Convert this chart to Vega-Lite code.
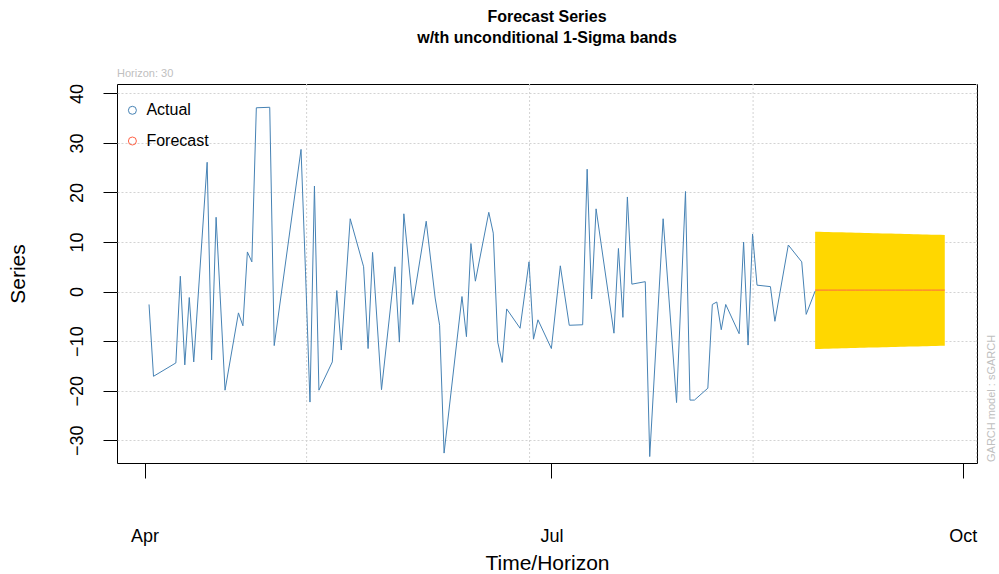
{
  "$schema": "https://vega.github.io/schema/vega-lite/v6.json",
  "width": 860,
  "height": 379,
  "autosize": {"type": "none"},
  "padding": {"left": 117, "top": 84, "right": 22, "bottom": 111},
  "background": "white",
  "config": {
    "view": {"stroke": "black", "strokeWidth": 1},
    "font": "Liberation Sans"
  },
  "title": {
    "text": ["Forecast Series", "w/th unconditional 1-Sigma bands"],
    "font": "Liberation Sans",
    "fontSize": 16,
    "fontWeight": "bold",
    "color": "black",
    "anchor": "middle",
    "offset": 22,
    "lineHeight": 20.7
  },
  "datasets": {
    "actual": [
      {"date": "2011-04-02", "v": -2.6},
      {"date": "2011-04-03", "v": -17.1},
      {"date": "2011-04-08", "v": -14.4},
      {"date": "2011-04-09", "v": 3.1},
      {"date": "2011-04-10", "v": -14.8},
      {"date": "2011-04-11", "v": -1.2},
      {"date": "2011-04-12", "v": -14.2},
      {"date": "2011-04-15", "v": 26.1},
      {"date": "2011-04-16", "v": -13.8},
      {"date": "2011-04-17", "v": 15.0},
      {"date": "2011-04-19", "v": -19.9},
      {"date": "2011-04-22", "v": -4.3},
      {"date": "2011-04-23", "v": -6.9},
      {"date": "2011-04-24", "v": 8.0},
      {"date": "2011-04-25", "v": 6.0},
      {"date": "2011-04-26", "v": 37.1},
      {"date": "2011-04-29", "v": 37.2},
      {"date": "2011-04-30", "v": -10.9},
      {"date": "2011-05-06", "v": 28.7},
      {"date": "2011-05-07", "v": 4.0},
      {"date": "2011-05-08", "v": -22.3},
      {"date": "2011-05-09", "v": 21.3},
      {"date": "2011-05-10", "v": -19.9},
      {"date": "2011-05-13", "v": -14.2},
      {"date": "2011-05-14", "v": 0.2},
      {"date": "2011-05-15", "v": -11.8},
      {"date": "2011-05-17", "v": 14.7},
      {"date": "2011-05-20", "v": 5.0},
      {"date": "2011-05-21", "v": -11.5},
      {"date": "2011-05-22", "v": 7.9},
      {"date": "2011-05-24", "v": -19.8},
      {"date": "2011-05-27", "v": 5.0},
      {"date": "2011-05-28", "v": -10.2},
      {"date": "2011-05-29", "v": 15.7},
      {"date": "2011-05-31", "v": -2.6},
      {"date": "2011-06-03", "v": 14.2},
      {"date": "2011-06-05", "v": -1.3},
      {"date": "2011-06-06", "v": -6.8},
      {"date": "2011-06-07", "v": -32.6},
      {"date": "2011-06-11", "v": -1.0},
      {"date": "2011-06-12", "v": -9.1},
      {"date": "2011-06-13", "v": 9.7},
      {"date": "2011-06-14", "v": 2.1},
      {"date": "2011-06-17", "v": 16.0},
      {"date": "2011-06-18", "v": 11.8},
      {"date": "2011-06-19", "v": -10.2},
      {"date": "2011-06-20", "v": -14.3},
      {"date": "2011-06-21", "v": -3.5},
      {"date": "2011-06-24", "v": -7.4},
      {"date": "2011-06-26", "v": 6.0},
      {"date": "2011-06-27", "v": -9.6},
      {"date": "2011-06-28", "v": -5.7},
      {"date": "2011-07-01", "v": -11.5},
      {"date": "2011-07-03", "v": 5.2},
      {"date": "2011-07-05", "v": -6.8},
      {"date": "2011-07-08", "v": -6.7},
      {"date": "2011-07-09", "v": 24.7},
      {"date": "2011-07-10", "v": -1.5},
      {"date": "2011-07-11", "v": 16.7},
      {"date": "2011-07-15", "v": -8.4},
      {"date": "2011-07-16", "v": 8.7},
      {"date": "2011-07-17", "v": -5.2},
      {"date": "2011-07-18", "v": 19.1},
      {"date": "2011-07-19", "v": 1.5},
      {"date": "2011-07-22", "v": 2.0},
      {"date": "2011-07-23", "v": -33.3},
      {"date": "2011-07-26", "v": 14.7},
      {"date": "2011-07-29", "v": -22.4},
      {"date": "2011-07-31", "v": 20.2},
      {"date": "2011-08-01", "v": -21.9},
      {"date": "2011-08-02", "v": -21.9},
      {"date": "2011-08-05", "v": -19.5},
      {"date": "2011-08-06", "v": -2.6},
      {"date": "2011-08-07", "v": -2.1},
      {"date": "2011-08-08", "v": -7.7},
      {"date": "2011-08-09", "v": -2.6},
      {"date": "2011-08-12", "v": -8.5},
      {"date": "2011-08-13", "v": 10.0},
      {"date": "2011-08-14", "v": -10.8},
      {"date": "2011-08-15", "v": 11.6},
      {"date": "2011-08-16", "v": 1.3},
      {"date": "2011-08-19", "v": 1.0},
      {"date": "2011-08-20", "v": -6.0},
      {"date": "2011-08-23", "v": 9.4},
      {"date": "2011-08-26", "v": 6.0},
      {"date": "2011-08-27", "v": -4.6},
      {"date": "2011-08-29", "v": 0.1}
    ],
    "forecast": [
      {"date": "2011-08-29", "mean": 0.3, "upper": 12.1, "lower": -11.6},
      {"date": "2011-08-30", "mean": 0.3, "upper": 12.08, "lower": -11.58},
      {"date": "2011-08-31", "mean": 0.3, "upper": 12.05, "lower": -11.55},
      {"date": "2011-09-01", "mean": 0.3, "upper": 12.03, "lower": -11.53},
      {"date": "2011-09-02", "mean": 0.3, "upper": 12.0, "lower": -11.5},
      {"date": "2011-09-03", "mean": 0.3, "upper": 11.98, "lower": -11.48},
      {"date": "2011-09-04", "mean": 0.3, "upper": 11.96, "lower": -11.46},
      {"date": "2011-09-05", "mean": 0.3, "upper": 11.93, "lower": -11.43},
      {"date": "2011-09-06", "mean": 0.3, "upper": 11.91, "lower": -11.41},
      {"date": "2011-09-07", "mean": 0.3, "upper": 11.88, "lower": -11.38},
      {"date": "2011-09-08", "mean": 0.3, "upper": 11.86, "lower": -11.36},
      {"date": "2011-09-09", "mean": 0.3, "upper": 11.84, "lower": -11.34},
      {"date": "2011-09-10", "mean": 0.3, "upper": 11.81, "lower": -11.31},
      {"date": "2011-09-11", "mean": 0.3, "upper": 11.79, "lower": -11.29},
      {"date": "2011-09-12", "mean": 0.3, "upper": 11.77, "lower": -11.27},
      {"date": "2011-09-13", "mean": 0.3, "upper": 11.74, "lower": -11.24},
      {"date": "2011-09-14", "mean": 0.3, "upper": 11.72, "lower": -11.22},
      {"date": "2011-09-15", "mean": 0.3, "upper": 11.7, "lower": -11.2},
      {"date": "2011-09-16", "mean": 0.3, "upper": 11.67, "lower": -11.17},
      {"date": "2011-09-17", "mean": 0.3, "upper": 11.65, "lower": -11.15},
      {"date": "2011-09-18", "mean": 0.3, "upper": 11.63, "lower": -11.13},
      {"date": "2011-09-19", "mean": 0.3, "upper": 11.6, "lower": -11.1},
      {"date": "2011-09-20", "mean": 0.3, "upper": 11.58, "lower": -11.08},
      {"date": "2011-09-21", "mean": 0.3, "upper": 11.56, "lower": -11.06},
      {"date": "2011-09-22", "mean": 0.3, "upper": 11.54, "lower": -11.04},
      {"date": "2011-09-23", "mean": 0.3, "upper": 11.51, "lower": -11.01},
      {"date": "2011-09-24", "mean": 0.3, "upper": 11.49, "lower": -10.99},
      {"date": "2011-09-25", "mean": 0.3, "upper": 11.47, "lower": -10.97},
      {"date": "2011-09-26", "mean": 0.3, "upper": 11.45, "lower": -10.95},
      {"date": "2011-09-27", "mean": 0.3, "upper": 11.42, "lower": -10.92}
    ],
    "vgrid": [
      {"date": "2011-05-07T06:00:00Z"},
      {"date": "2011-06-26T03:00:00Z"},
      {"date": "2011-08-15T03:00:00Z"},
      {"date": "2011-10-04T03:00:00Z"}
    ]
  },
  "layer": [
    {
      "data": {"name": "vgrid"},
      "mark": {"type": "rule", "color": "#D3D3D3", "strokeDash": [2, 2], "strokeWidth": 1},
      "encoding": {
        "x": {
          "field": "date",
          "type": "temporal",
          "scale": {
            "type": "utc",
            "domain": [
              {"year": 2011, "month": 3, "date": 25, "hours": 20, "utc": true},
              {"year": 2011, "month": 10, "date": 4, "hours": 5, "utc": true}
            ]
          },
          "axis": {
            "values": [
              {"year": 2011, "month": 4, "date": 1, "utc": true},
              {"year": 2011, "month": 7, "date": 1, "utc": true},
              {"year": 2011, "month": 10, "date": 1, "utc": true}
            ],
            "format": "%b",
            "grid": false,
            "domain": false,
            "tickSize": 15,
            "tickColor": "black",
            "labelPadding": 49,
            "labelFontSize": 18,
            "labelFont": "Liberation Sans",
            "labelColor": "black",
            "labelFlush": false,
            "labelOverlap": false,
            "title": "Time/Horizon",
            "titleFont": "Liberation Sans",
            "titleFontSize": 21,
            "titleFontWeight": "normal",
            "titleColor": "black",
            "titleX": 430,
            "titleY": 100,
            "titleBaseline": "middle",
            "titleAlign": "center"
          }
        }
      }
    },
    {
      "data": {"name": "forecast"},
      "mark": {"type": "area", "color": "#FFD700", "opacity": 1},
      "encoding": {
        "x": {"field": "date", "type": "temporal"},
        "y": {
          "field": "lower",
          "type": "quantitative",
          "scale": {"domain": [-34.6, 41.9], "nice": false, "zero": false},
          "axis": {
            "values": [-30, -20, -10, 0, 10, 20, 30, 40],
            "grid": true,
            "gridColor": "#D3D3D3",
            "gridDash": [2, 2],
            "gridOpacity": 1,
            "domain": false,
            "tickSize": 14,
            "tickColor": "black",
            "labelAngle": -90,
            "labelAlign": "center",
            "labelBaseline": "middle",
            "labelPadding": 26,
            "labelFontSize": 18,
            "labelFont": "Liberation Sans",
            "labelColor": "black",
            "labelFlush": false,
            "labelOverlap": false,
            "title": "Series",
            "titleFont": "Liberation Sans",
            "titleFontSize": 21,
            "titleFontWeight": "normal",
            "titleColor": "black",
            "titleAngle": -90,
            "titleX": -99,
            "titleY": 189.5,
            "titleAlign": "center",
            "titleBaseline": "middle"
          }
        },
        "y2": {"field": "upper"}
      }
    },
    {
      "data": {"name": "actual"},
      "mark": {"type": "line", "strokeWidth": 1},
      "encoding": {
        "x": {"field": "date", "type": "temporal"},
        "y": {"field": "v", "type": "quantitative"},
        "color": {
          "datum": "Actual",
          "scale": {"domain": ["Actual", "Forecast"], "range": ["#4682B4", "#FF6347"]},
          "legend": {
            "title": null,
            "orient": "none",
            "legendX": 7.4,
            "legendY": 18.3,
            "symbolType": "circle",
            "symbolSize": 64,
            "symbolStrokeWidth": 1,
            "symbolFillColor": "transparent",
            "labelFont": "Liberation Sans",
            "labelFontSize": 16,
            "labelColor": "black",
            "labelOffset": 6,
            "rowPadding": 14.7,
            "padding": 0
          }
        }
      }
    },
    {
      "data": {"name": "forecast"},
      "mark": {"type": "line", "strokeWidth": 1},
      "encoding": {
        "x": {"field": "date", "type": "temporal"},
        "y": {"field": "mean", "type": "quantitative"},
        "color": {"datum": "Forecast"}
      }
    },
    {
      "data": {"values": [{"label": "Horizon: 30"}]},
      "mark": {"type": "text", "align": "left", "baseline": "middle", "font": "Liberation Sans", "fontSize": 11, "color": "#C0C0C0"},
      "encoding": {
        "x": {"datum": {"year": 2011, "month": 3, "date": 25, "hours": 20, "utc": true}, "type": "temporal"},
        "y": {"datum": 43.9, "type": "quantitative"},
        "text": {"field": "label"}
      }
    },
    {
      "data": {"values": [{"label": "GARCH model : sGARCH"}]},
      "mark": {"type": "text", "align": "left", "baseline": "middle", "angle": 270, "font": "Liberation Sans", "fontSize": 11, "color": "#C0C0C0"},
      "encoding": {
        "x": {"datum": {"year": 2011, "month": 10, "date": 7, "hours": 12, "utc": true}, "type": "temporal"},
        "y": {"datum": -34.4, "type": "quantitative"},
        "text": {"field": "label"}
      }
    }
  ]
}
